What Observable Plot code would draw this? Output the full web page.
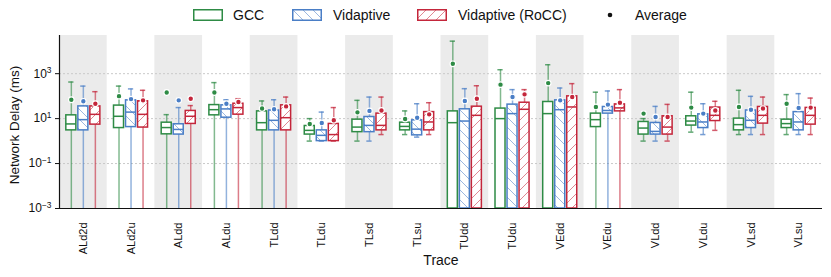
<!DOCTYPE html>
<html><head><meta charset="utf-8">
<script src="https://cdn.jsdelivr.net/npm/d3@7"></script>
<script src="https://cdn.jsdelivr.net/npm/@observablehq/plot@0.6"></script>
<style>
body{margin:0;background:#fff;font-family:"Liberation Sans",Arial,sans-serif;}
#legend{position:relative;height:30px;width:831px;font-size:14px;color:#111;}
.item{position:absolute;top:0;height:30px;display:flex;align-items:center;}
.sw{display:block;}
</style></head><body>
<svg width="0" height="0" style="position:absolute"><defs id="pdefs"></defs></svg>
<div id="legend"></div><div id="chart"></div>
<script>
const traces = ["ALd2d","ALd2u","ALdd","ALdu","TLdd","TLdu","TLsd","TLsu","TUdd","TUdu","VEdd","VEdu","VLdd","VLdu","VLsd","VLsu"];
const seriesNames = ["GCC","Vidaptive","Vidaptive (RoCC)"];

const gccLow    = [0.001,0.001,0.001,0.001,0.001,1.0,1.0,1.95,0.001,0.001,0.001,0.001,1.0,2.5,1.95,1.95];
const gccQ1     = [3.0,3.8,2.0,14,3.0,1.95,2.5,3.0,0.001,0.001,0.001,4.2,1.95,4.9,3.0,3.8];
const gccMedian = [5.8,12.7,4.0,25,6.6,3.0,4.2,4.5,6.6,10,16.7,9,3.8,7.8,5.4,6.0];
const gccQ3     = [14,38,6.6,40,21,4.7,9,6.6,21,28,55,16.7,7.1,12.7,10,9];
const gccHigh   = [425,280,15,400,61,10,65,22,28000,1500,2500,150,10,150,182,117];
const gccMean   = [69,100,145,145,28,5.8,19,9.6,2750,325,380,33,16.7,31,33,46];

const vidLow    = [0.001,0.001,0.001,0.001,0.001,1.0,1.0,1.5,0.001,0.001,0.001,0.001,1.0,1.95,1.95,1.95];
const vidQ1     = [3.0,4.2,1.95,11,3.0,1.0,2.5,1.8,0.001,0.001,0.001,16.7,1.95,3.8,3.8,3.0];
const vidMedian = [9,19.5,3.3,27,8.4,1.8,5.0,3.4,7.8,16.7,25,23,2.7,7.1,8.4,7.1];
const vidQ3     = [35,65,5.6,39,23,3.0,11.8,8.4,26,42,65,33,6.4,15.5,23,19.5];
const vidHigh   = [280,210,31,69,69,19.5,91,46,215,195,230,170,35,46,98,129];
const vidMean   = [59,74,65,46,26,6.4,22,11,61,91,65,42,11.8,16.7,25,30];

const roccLow    = [0.001,0.001,0.001,0.001,0.001,1.0,1.95,1.95,0.001,0.001,0.001,0.001,1.0,3.0,1.95,1.95];
const roccQ1     = [5.4,4.0,5.8,15,3.0,1.0,3.0,3.0,0.001,0.001,0.001,21,1.95,7.8,6.0,5.4];
const roccMedian = [15.5,15.5,12.7,31,11,1.95,5.0,7.1,14,26,33,30,4.2,14,14,14];
const roccQ3     = [35,59,22,46,39,5.8,16.7,19.5,34,51,98,43,12.7,31,33,30];
const roccHigh   = [158,182,38,77,91,31,91,51,290,195,360,195,43,59,91,82];
const roccMean   = [46,65,77,55,35,8.4,23,15.5,77,120,91,51,11.8,23,28,31];

const yTicks = [1e-3, 1e-1, 1e1, 1e3];

// styling
const colors = ["#2e8b45", "#4a7ec6", "#c4263b"];
const offsets = [-0.252, 0, 0.252];
const boxW = 0.21, capW = 0.11, floor = 1e-3;

// hatch patterns
const NS = "http://www.w3.org/2000/svg";
const defs = document.getElementById("pdefs");
function makePattern(id, kind, color){
  const p = document.createElementNS(NS,"pattern");
  p.setAttribute("id", id); p.setAttribute("patternUnits","userSpaceOnUse");
  p.setAttribute("width", 10); p.setAttribute("height", 10);
  const path = document.createElementNS(NS,"path");
  path.setAttribute("d", kind === "back"
    ? "M-2.5,7.5L2.5,12.5M0,0L10,10M7.5,-2.5L12.5,2.5"
    : "M-2.5,2.5L2.5,-2.5M0,10L10,0M7.5,12.5L12.5,7.5");
  path.setAttribute("stroke", color); path.setAttribute("stroke-opacity", 0.55);
  path.setAttribute("stroke-width", 1); path.setAttribute("fill","none");
  p.appendChild(path); defs.appendChild(p);
}
makePattern("hatch1","back",colors[1]);
makePattern("hatch2","fwd",colors[2]);
const fills = [null, "url(#hatch1)", "url(#hatch2)"];

const stats = [
  [gccLow, gccQ1, gccMedian, gccQ3, gccHigh, gccMean],
  [vidLow, vidQ1, vidMedian, vidQ3, vidHigh, vidMean],
  [roccLow, roccQ1, roccMedian, roccQ3, roccHigh, roccMean]
];
const tables = stats.map(([lo,q1,md,q3,hi,mn], s) => traces.map((t,i) => ({
  trace: t, x: i + offsets[s], lo: lo[i], q1: q1[i], med: md[i], q3: q3[i], hi: hi[i], mean: mn[i]
})));

// legend
const legend = document.getElementById("legend");
const legendPos = [[193,233],[292,333],[417,458]];
seriesNames.forEach((name, s) => {
  const sw = document.createElement("div"); sw.className = "item"; sw.style.left = legendPos[s][0]+"px";
  sw.innerHTML = `<svg class="sw" width="30" height="12"><rect x="0.75" y="0.75" width="28.5" height="10.5" fill="white"/>` +
    (fills[s] ? `<rect x="0.75" y="0.75" width="28.5" height="10.5" fill="${fills[s]}"/>` : "") +
    `<rect x="0.75" y="0.75" width="28.5" height="10.5" fill="none" stroke="${colors[s]}" stroke-width="1.5"/></svg>`;
  legend.appendChild(sw);
  const tx = document.createElement("div"); tx.className = "item"; tx.style.left = legendPos[s][1]+"px";
  tx.textContent = name; legend.appendChild(tx);
});
{
  const d = document.createElement("div"); d.className="item"; d.style.left="607px";
  d.innerHTML = `<svg class="sw" width="6" height="6"><circle cx="3" cy="3" r="2.3" fill="#111"/></svg>`;
  legend.appendChild(d);
  const tx = document.createElement("div"); tx.className="item"; tx.style.left="635px"; tx.textContent="Average";
  legend.appendChild(tx);
}

const bandIdx = d3.range(traces.length).filter(i => i % 2 === 0);

const marks = [
  Plot.rect(bandIdx, {x1: d => d - 0.5, x2: d => d + 0.5, fill: "#ebebeb"}),
  Plot.ruleY(yTicks.slice(1), {stroke: "#c9c9c9", strokeDasharray: "2,2", strokeWidth: 1})
];
tables.forEach((data, s) => {
  marks.push(Plot.ruleX(data, {x: "x", y1: "lo", y2: "hi", stroke: colors[s], strokeOpacity: 0.6, strokeWidth: 1.5}));
  marks.push(Plot.ruleY(data, {y: "hi", x1: d => d.x - capW/2, x2: d => d.x + capW/2, stroke: colors[s], strokeOpacity: 0.75, strokeWidth: 1.5}));
  marks.push(Plot.ruleY(data.filter(d => d.lo > floor), {y: "lo", x1: d => d.x - capW/2, x2: d => d.x + capW/2, stroke: colors[s], strokeOpacity: 0.75, strokeWidth: 1.5}));
});
tables.forEach((data, s) => {
  const box = {x1: d => d.x - boxW/2, x2: d => d.x + boxW/2, y1: "q1", y2: "q3"};
  marks.push(Plot.rect(data, {...box, fill: "white"}));
  if (fills[s]) marks.push(Plot.rect(data, {...box, fill: fills[s]}));
  marks.push(Plot.rect(data, {...box, fill: "none", stroke: colors[s], strokeWidth: 1.5}));
  marks.push(Plot.ruleY(data, {y: "med", x1: d => d.x - boxW/2, x2: d => d.x + boxW/2, stroke: colors[s], strokeWidth: 1.5}));
});
tables.forEach((data, s) => {
  marks.push(Plot.dot(data, {x: "x", y: "mean", r: 2.8, fill: colors[s], stroke: "white", strokeWidth: 1.2}));
});
marks.push(
  Plot.ruleX([-0.5], {stroke: "#111", strokeWidth: 1.2}),
  Plot.ruleY([floor], {stroke: "#111", strokeWidth: 1.2}),
  Plot.axisY({ticks: yTicks, tickFormat: d => "10^" + Math.round(Math.log10(d)), tickSize: 4, tickPadding: 4, fontSize: 12, label: null, stroke: "#111"}),
  Plot.axisX({ticks: d3.range(traces.length), tickFormat: i => traces[i], tickRotate: -90, tickSize: 0, tickPadding: 14, fontSize: 11, label: null}),
  Plot.text(["Network Delay (ms)"], {frameAnchor: "left", textAnchor: "middle", dx: -45, dy: 3, rotate: -90, fontSize: 13.5, fill: "#111"}),
  Plot.text(["Trace"], {frameAnchor: "bottom", textAnchor: "middle", dy: 56, fontSize: 14, fill: "#111"})
);

const chart = Plot.plot({
  width: 831, height: 247,
  marginLeft: 59, marginRight: 9, marginTop: 5, marginBottom: 69,
  style: {fontFamily: "'Liberation Sans', Arial, sans-serif", color: "#111", background: "white"},
  x: {type: "linear", domain: [-0.5, traces.length - 0.5]},
  y: {type: "log", domain: [1e-3, 5e4]},
  marks
});

chart.querySelectorAll("text").forEach(t => {
  const m = /^10\^(-?\d+)$/.exec(t.textContent);
  if (m) {
    t.textContent = "10";
    const ts = document.createElementNS(NS, "tspan");
    ts.setAttribute("dy", "-0.5em"); ts.setAttribute("font-size", "0.7em");
    ts.textContent = m[1].replace("-", "\u2212");
    t.appendChild(ts);
  }
});
document.getElementById("chart").appendChild(chart);
</script>
</body></html>
